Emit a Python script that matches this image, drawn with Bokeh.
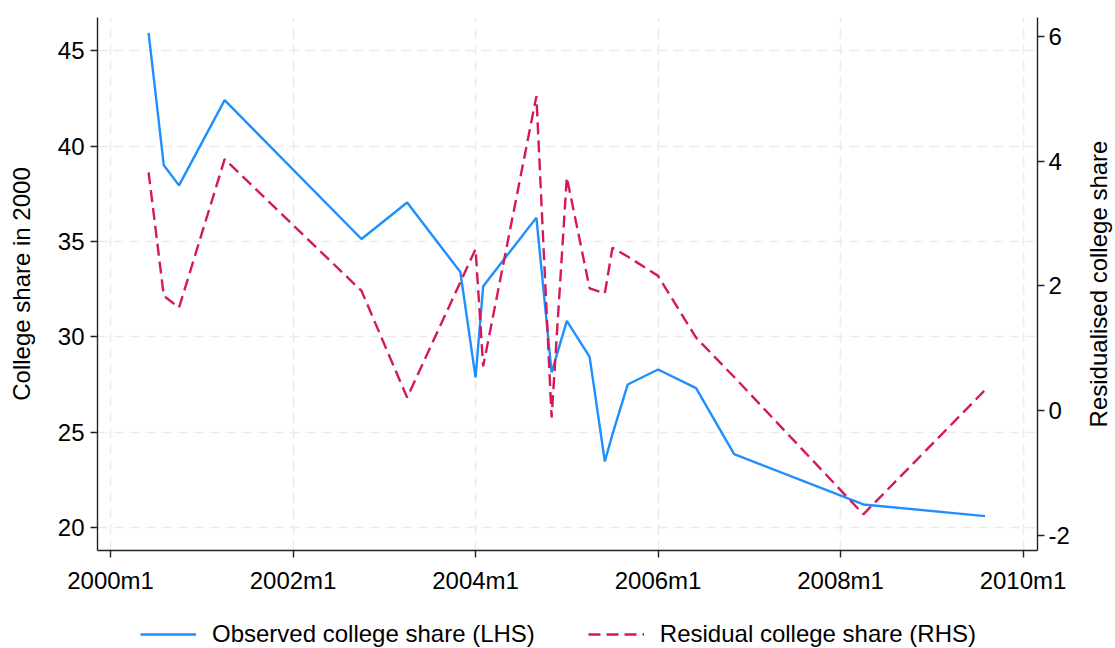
from bokeh.plotting import figure
from bokeh.layouts import column, row
from bokeh.models import (Range1d, LinearAxis, FixedTicker, ColumnDataSource,
                          Legend, LegendItem)
from bokeh.embed import file_html
from bokeh.resources import INLINE

# ---- data (months counted from 2000m1 = 0) ----
months = [5, 7, 9, 15, 33, 39, 46, 48, 49, 56, 58, 60, 63, 65, 66, 68, 72, 77, 82, 99, 115]
observed_share = [45.93, 38.99, 37.94, 42.40, 35.13, 37.04, 33.40, 27.88, 32.66, 36.25, 28.15,
                  30.84, 28.96, 23.48, 24.90, 27.51, 28.30, 27.32, 23.87, 21.23, 20.62]
residual_share = [3.82, 1.84, 1.65, 4.03, 1.92, 0.21, 2.06, 2.59, 0.71, 5.04, -0.11,
                  3.74, 1.96, 1.88, 2.61, 2.47, 2.16, 1.17, 0.54, -1.66, 0.33]

x_ticks = [0, 24, 48, 72, 96, 120]
x_tick_labels = ["2000m1", "2002m1", "2004m1", "2006m1", "2008m1", "2010m1"]
left_ticks = [20, 25, 30, 35, 40, 45]
right_ticks = [-2, 0, 2, 4, 6]
right_tick_labels = ["-2", "0", "2", "4", "6"]

series_labels = ["Observed college share (LHS)", "Residual college share (RHS)"]
left_title = "College share in 2000"
right_title = "Residualised college share"

FONT = "Liberation Sans"
FS = "24px"
BLUE = "#1e8fff"
RED = "#d4185a"
GRID = "#ebebeb"
LW = 2.4
DASH = "12 6"

src = ColumnDataSource(dict(m=months, obs=observed_share, res=residual_share))

p = figure(width=1072, height=596, output_backend="svg", toolbar_location=None,
           x_range=Range1d(-1.72, 121.9), y_range=Range1d(18.82, 46.73),
           min_border_left=97, min_border_right=33, min_border_top=17, min_border_bottom=46)
p.extra_y_ranges = {"rhs": Range1d(-2.24, 6.30)}
p.outline_line_color = None
p.background_fill_color = "white"
p.border_fill_color = "white"

def style_axis(ax):
    ax.axis_line_color = "#222222"
    ax.axis_line_width = 1.4
    ax.major_tick_line_color = "#222222"
    ax.major_tick_line_width = 1.4
    ax.major_tick_out = 7
    ax.major_tick_in = 0
    ax.minor_tick_line_color = None
    ax.major_label_text_font = FONT
    ax.major_label_text_font_size = FS
    ax.major_label_text_color = "black"
    ax.axis_label_text_font = FONT
    ax.axis_label_text_font_size = FS
    ax.axis_label_text_font_style = "normal"
    ax.axis_label_text_color = "black"

# x axis
xa = p.xaxis[0]
xa.ticker = FixedTicker(ticks=x_ticks)
xa.major_label_overrides = {t: l for t, l in zip(x_ticks, x_tick_labels)}
style_axis(xa)
xa.major_label_standoff = 9

# left axis
ya = p.yaxis[0]
ya.ticker = FixedTicker(ticks=left_ticks)
ya.axis_label = left_title
style_axis(ya)
ya.major_label_standoff = 6
ya.axis_label_standoff = 20

# right axis (ticks and labels; its title is set in the strip at the right)
ra = LinearAxis(y_range_name="rhs", ticker=FixedTicker(ticks=right_ticks))
ra.major_label_overrides = {t: l for t, l in zip(right_ticks, right_tick_labels)}
style_axis(ra)
ra.major_label_standoff = 4
p.add_layout(ra, "right")

# grids
p.xgrid.ticker = FixedTicker(ticks=x_ticks)
p.ygrid.ticker = FixedTicker(ticks=left_ticks)
for g in (p.xgrid[0], p.ygrid[0]):
    g.grid_line_color = GRID
    g.grid_line_width = 1.6
    g.grid_line_dash = "10 6"

p.line("m", "obs", source=src, line_color=BLUE, line_width=LW)
p.line("m", "res", source=src, line_color=RED, line_width=LW, line_dash=DASH,
       y_range_name="rhs")

# ---- narrow strip holding the right-hand axis title (reads bottom-to-top) ----
tfig = figure(width=43, height=596, output_backend="svg", toolbar_location=None,
              x_range=Range1d(0, 1), y_range=Range1d(-2.24, 6.30),
              x_axis_location=None,
              min_border_left=39, min_border_right=0, min_border_top=17, min_border_bottom=46)
tfig.outline_line_color = None
tfig.grid.visible = False
tax = tfig.yaxis[0]
tax.ticker = FixedTicker(ticks=[])
tax.axis_line_color = None
tax.major_tick_line_color = None
tax.minor_tick_line_color = None
tax.major_tick_out = 0
tax.major_tick_in = 0
tax.major_label_standoff = 0
tax.axis_label = right_title
tax.axis_label_standoff = 0
tax.axis_label_text_font = FONT
tax.axis_label_text_font_size = FS
tax.axis_label_text_font_style = "normal"
tax.axis_label_text_color = "black"

# ---- legend strip below the chart ----
leg = figure(width=1115, height=52, output_backend="svg", toolbar_location=None,
             x_range=Range1d(0, 1), y_range=Range1d(1000, 1001),
             x_axis_location=None, y_axis_location=None,
             min_border_left=0, min_border_right=0, min_border_top=0, min_border_bottom=0)
leg.outline_line_color = None
leg.grid.visible = False
# same series, drawn out of view: only their legend samples show
l1 = leg.line("m", "obs", source=src, line_color=BLUE, line_width=LW)
l2 = leg.line("m", "res", source=src, line_color=RED, line_width=LW, line_dash=DASH)

legend = Legend(items=[LegendItem(label=series_labels[0], renderers=[l1]),
                       LegendItem(label=series_labels[1], renderers=[l2])],
                orientation="horizontal", location=(140, 0),
                label_text_font=FONT, label_text_font_size=FS, label_text_color="black",
                glyph_width=56, glyph_height=24, label_standoff=16, spacing=53,
                padding=0, margin=0, border_line_color=None,
                background_fill_alpha=0)
leg.add_layout(legend, "center")

layout = column(row(p, tfig, spacing=0), leg, spacing=0)
open("out.html", "w").write(file_html(layout, INLINE))
